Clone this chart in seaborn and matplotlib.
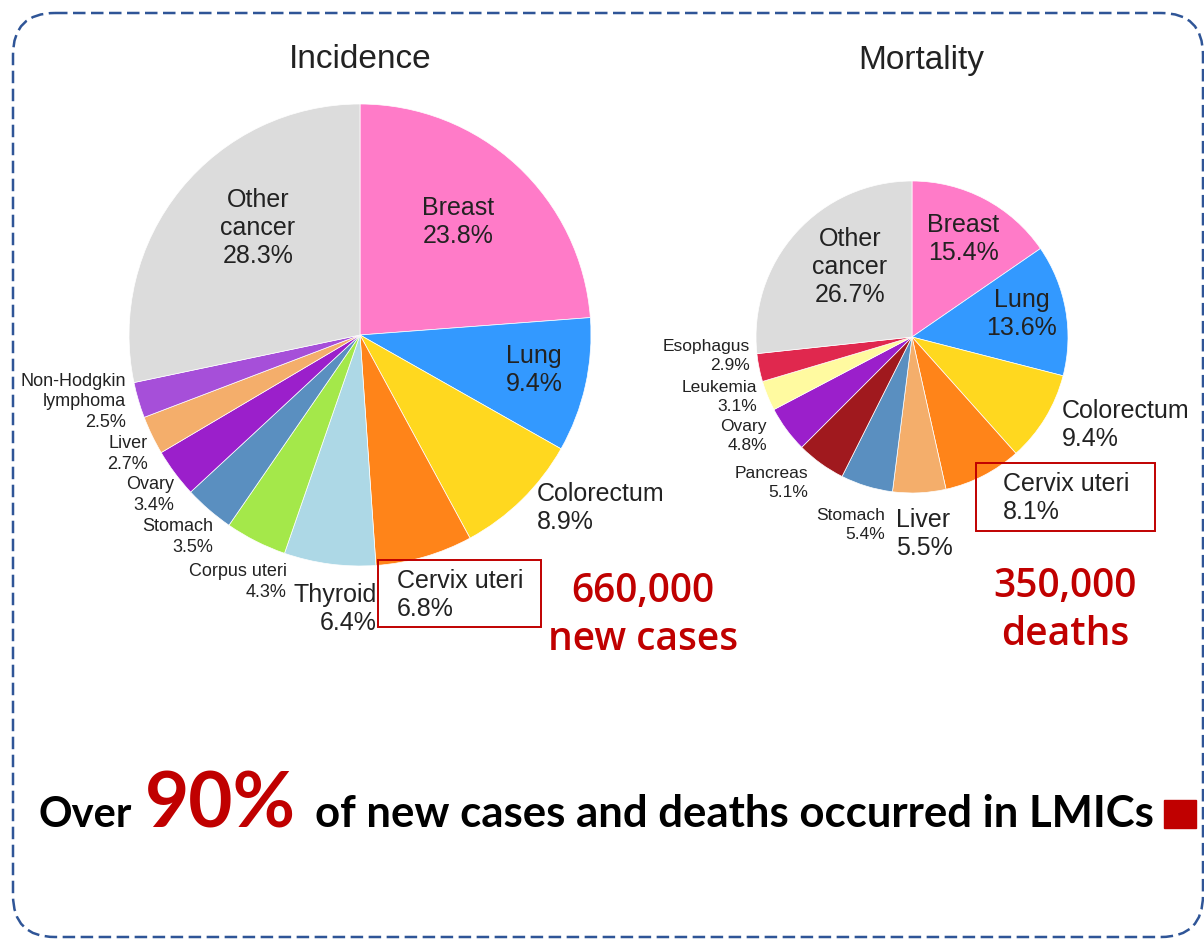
import matplotlib.pyplot as plt
import seaborn as sns
from matplotlib.patches import FancyBboxPatch, Rectangle

# --- data ---
inc_labels = ["Breast", "Lung", "Colorectum", "Cervix uteri", "Thyroid", "Corpus uteri",
              "Stomach", "Ovary", "Liver", "Non-Hodgkin\nlymphoma", "Other\ncancer"]
inc_values = [23.8, 9.4, 8.9, 6.8, 6.4, 4.3, 3.5, 3.4, 2.7, 2.5, 28.3]
inc_colors = ["#FF7BC8", "#3399FF", "#FFD81F", "#FF8419", "#ADD8E6", "#A4E84A",
              "#5A8FC0", "#9B1FCB", "#F4AE6B", "#A64FD9", "#DCDCDC"]

mort_labels = ["Breast", "Lung", "Colorectum", "Cervix uteri", "Liver", "Stomach",
               "Pancreas", "Ovary", "Leukemia", "Esophagus", "Other\ncancer"]
mort_values = [15.4, 13.6, 9.4, 8.1, 5.5, 5.4, 5.1, 4.8, 3.1, 2.9, 26.7]
mort_colors = ["#FF7BC8", "#3399FF", "#FFD81F", "#FF8419", "#F4AE6B", "#5A8FC0",
               "#A0191E", "#9B1FCB", "#FFFAA0", "#E0284E", "#DCDCDC"]

inc_total = ["660,000", "new cases"]
mort_total = ["350,000", "deaths"]

# label placement in pixels: (x, y, ha, size) -- layout only
inc_pos = [(458, 222, "center", 18), (534, 370, "center", 18), (537, 508, "left", 18),
           (397, 595, "left", 18), (377, 609, "right", 18), (287, 582, "right", 13),
           (213, 537, "right", 13), (174, 495, "right", 13), (148, 454, "right", 13),
           (126, 402, "right", 13), (258, 228, "center", 18)]
mort_pos = [(963, 239, "center", 18), (1022, 314, "center", 18), (1062, 425, "left", 18),
            (1003, 498, "left", 18), (896, 534, "left", 18), (885, 525, "right", 12.5),
            (808, 483, "right", 12.5), (767, 436, "right", 12.5), (757, 397, "right", 12.5),
            (750, 356, "right", 12.5), (850, 267, "center", 18)]

W, H = 1204, 940
RED = "#C00000"

sns.set_theme(style="white")
plt.rcParams['font.family'] = ['Liberation Sans', 'DejaVu Sans']

fig = plt.figure(figsize=(W / 100, H / 100), dpi=100)
fig.patch.set_facecolor("white")

# background layer (border)
bg = fig.add_axes([0, 0, 1, 1], zorder=0)
bg.set_xlim(0, W)
bg.set_ylim(H, 0)
bg.axis("off")
bg.add_patch(FancyBboxPatch((13, 13), 1190, 924, boxstyle="round,pad=0,rounding_size=42",
                            fill=False, edgecolor="#2F5597", linewidth=1.8,
                            linestyle=(0, (5, 2.2)), clip_on=False))


def pie_axes(cx, cy, r):
    ax = fig.add_axes([(cx - r) / W, (H - cy - r) / H, 2 * r / W, 2 * r / H], zorder=1)
    return ax


def draw_pie(ax, values, colors):
    ax.pie(values, colors=sns.color_palette(colors), startangle=90, counterclock=False,
           radius=1, wedgeprops=dict(edgecolor="white", linewidth=0.5))
    ax.set_xlim(-1, 1)
    ax.set_ylim(-1, 1)
    ax.axis("off")


ax1 = pie_axes(360, 335, 231)
draw_pie(ax1, inc_values, inc_colors)
ax2 = pie_axes(912, 337, 156)
draw_pie(ax2, mort_values, mort_colors)

# foreground text layer
fg = fig.add_axes([0, 0, 1, 1], zorder=3)
fg.set_xlim(0, W)
fg.set_ylim(H, 0)
fg.axis("off")
fg.patch.set_alpha(0)

fg.text(360, 60, "Incidence", ha="center", va="center", fontsize=24, color="#222222")
fg.text(921, 60, "Mortality", ha="center", va="center", fontsize=24, color="#222222")


def put_labels(labels, values, pos):
    for lab, v, (x, y, ha, fs) in zip(labels, values, pos):
        fg.text(x, y, f"{lab}\n{v}%", ha=ha, va="center", fontsize=fs,
                color="#222222", linespacing=1.2 if fs > 15 else 1.28)


put_labels(inc_labels, inc_values, inc_pos)
put_labels(mort_labels, mort_values, mort_pos)

# highlight boxes around cervix uteri
fg.add_patch(Rectangle((378, 560), 163, 67, fill=False, edgecolor=RED, linewidth=1.4))
fg.add_patch(Rectangle((976, 463), 179, 68, fill=False, edgecolor=RED, linewidth=1.4))

for (line1, line2), x, y in [(inc_total, 643, 602), (mort_total, 1065, 597)]:
    fg.text(x, y, line1, ha="center", va="baseline", fontsize=28, fontweight="semibold",
            color=RED, family="Open Sans")
    fg.text(x, y + 48, line2, ha="center", va="baseline", fontsize=28, fontweight="semibold",
            color=RED, family="Open Sans")

# bottom statement
fg.text(38, 827, "Over", ha="left", va="baseline", fontsize=30, fontweight="bold",
        color="black", family="Lato")
fg.text(145, 827, "90%", ha="left", va="baseline", fontsize=55, fontweight="bold",
        color=RED, family="Lato")
fg.text(315, 827, "of new cases and deaths occurred in LMICs", ha="left", va="baseline",
        fontsize=31.5, fontweight="bold", color="black", family="Lato")
fg.add_patch(Rectangle((1164, 800), 32, 28, color=RED))

fig.savefig("out.png", dpi=100)
